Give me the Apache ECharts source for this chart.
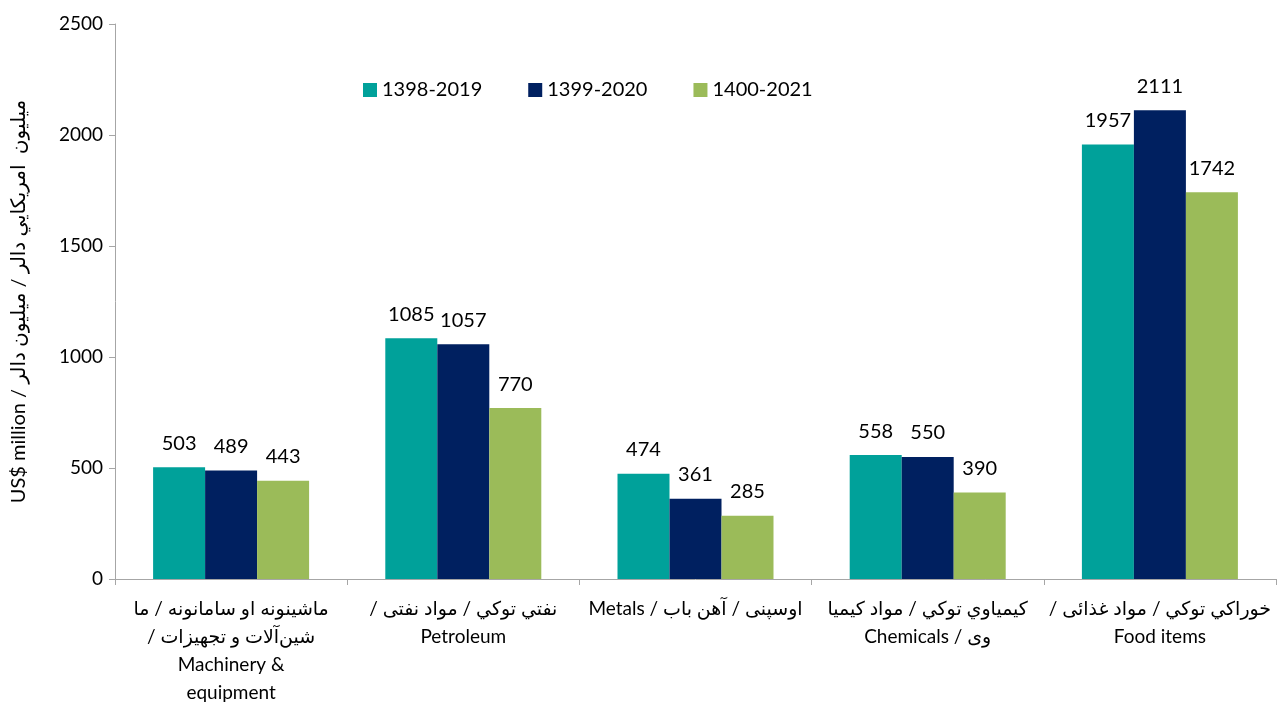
<!DOCTYPE html>
<html>
<head>
<meta charset="utf-8">
<script src="https://cdn.jsdelivr.net/npm/echarts@6/dist/echarts.min.js"></script>
<style>
html,body{margin:0;padding:0;background:#fff;}
#chart{width:1278px;height:706px;}
</style>
</head>
<body>
<div id="chart" dir="rtl"></div>
<script>
const categories = [
  "ماشینونه او سامانونه / ما\nشین‌آلات و تجهیزات /\nMachinery &\u200E\nequipment",
  "نفتي توکي / مواد نفتی /\nPetroleum",
  "اوسپنی / آهن باب / Metals",
  "کیمیاوي توکي / مواد کیمیا\nوی / Chemicals",
  "خوراکي توکي / مواد غذائی /\nFood items"
];
const seriesNames = ["1398-2019", "1399-2020", "1400-2021"];
const values1398 = [503, 1085, 474, 558, 1957];
const values1399 = [489, 1057, 361, 550, 2111];
const values1400 = [443, 770, 285, 390, 1742];
const yTicks = [0, 500, 1000, 1500, 2000, 2500];
const yAxisName = "میلیون  امریکایي دالر / میلیون دالر / US$ million";

const colors = ["#00A19A", "#002060", "#9BBB59"];
const font = "Lato, 'DejaVu Sans', sans-serif";

const chart = echarts.init(document.getElementById('chart'), null, {renderer: 'canvas'});
const dataSets = [values1398, values1399, values1400];

chart.setOption({
  animation: false,
  textStyle: {fontFamily: font},
  grid: {left: 115, right: 2, top: 24, bottom: 127, containLabel: false, outerBoundsMode: 'none'},
  legend: {
    data: seriesNames,
    left: 363,
    top: 80,
    padding: 0,
    itemWidth: 14,
    itemHeight: 14,
    itemGap: 46,
    icon: 'rect',
    textStyle: {fontSize: 20, color: '#000', fontFamily: font}
  },
  xAxis: {
    type: 'category',
    data: categories,
    axisLine: {lineStyle: {color: '#A6A6A6', width: 1}},
    axisTick: {show: true, length: 6, lineStyle: {color: '#A6A6A6'}},
    axisLabel: {
      interval: 0,
      margin: 16,
      fontSize: 19,
      lineHeight: 28,
      color: '#000',
      fontFamily: font
    }
  },
  yAxis: {
    type: 'value',
    min: yTicks[0],
    max: yTicks[yTicks.length - 1],
    interval: 500,
    name: yAxisName,
    nameLocation: 'middle',
    nameGap: 86,
    nameTextStyle: {fontSize: 20, color: '#000', fontFamily: font},
    axisLine: {show: true, lineStyle: {color: '#A6A6A6', width: 1}},
    axisTick: {show: true, length: 6, lineStyle: {color: '#A6A6A6'}},
    splitLine: {show: false},
    axisLabel: {fontSize: 19, color: '#000', margin: 12, fontFamily: font, formatter: (v) => String(v)}
  },
  series: seriesNames.map((name, i) => ({
    name: name,
    type: 'bar',
    data: dataSets[i],
    barWidth: 52,
    barGap: '0%',
    itemStyle: {color: colors[i]},
    label: {
      show: true,
      position: 'top',
      distance: 14,
      fontSize: 20,
      color: '#000',
      fontFamily: font
    }
  }))
});
</script>
</body>
</html>
